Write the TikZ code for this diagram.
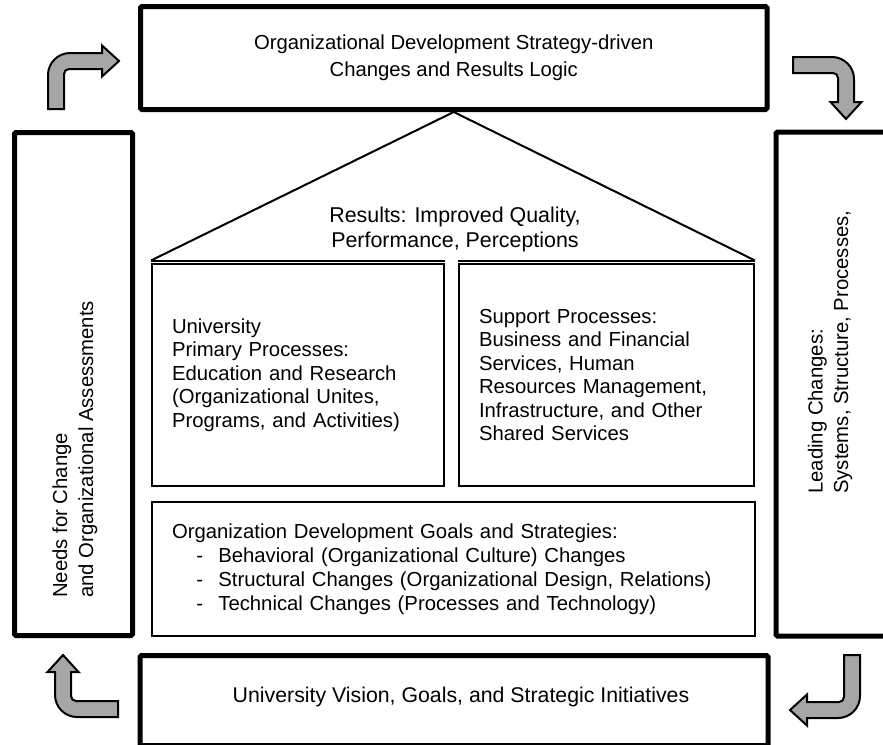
\documentclass[tikz,border=0pt]{standalone}
\usepackage{fontspec}
\setmainfont{Liberation Sans}

\tikzset{
  bigbox/.style={draw, line width=5pt, rounded corners=1.5pt, inner sep=0pt, align=center},
  smallbox/.style={draw, line width=2pt, inner xsep=20pt, inner ysep=0pt, align=left},
  roof/.style={line width=2pt},
  arrowfill/.style={fill=gray!70, draw=black, line width=2pt},
}

% bent arrow: leg length, distance to the head
\newcommand{\bentarrow}[2]{%
  \filldraw[arrowfill] (0,#1) -- (0,22) .. controls (0,9.9) and (9.9,0) .. (22,0)
    -- (#2,0) -- (#2,-7.5) -- ({#2+17},8) -- (#2,23.5) -- (#2,16)
    -- (21,16) .. controls (18.2,16) and (16,18.2) .. (16,21) -- (16,#1) -- cycle;}

\begin{document}
\begin{tikzpicture}[x=1pt, y=-1pt, font=\fontsize{20.3}{23.5}\selectfont]
    \useasboundingbox (0,0) rectangle (883,744);
    \clip (0,0) rectangle (883,744);

    % Outer frame
    \node[bigbox, minimum width=626.5, minimum height=103, font=\fontsize{20.3}{27}\selectfont] (strat) at (453.75,58)
        {Organizational Development Strategy-driven\\Changes and Results Logic};
    \node[bigbox, minimum width=118, minimum height=503] (needs) at (73.5,384) {};
    \node[bigbox, minimum width=110, minimum height=504] (lead) at (831,384) {};
    \node[bigbox, minimum width=628, minimum height=90] (vision) at (454,700.5) {};
    \node[font=\fontsize{21.3}{25}\selectfont] (visiontxt) at (461,697)
        {University Vision, Goals, and Strategic Initiatives};

    % Side labels
    \node[rotate=90, anchor=west, align=left, inner sep=0pt, font=\fontsize{20.3}{26}\selectfont] (needstxt) at (75,598)
        {Needs for Change\\and Organizational Assessments};
    \node[rotate=90, anchor=west, align=left, inner sep=0pt, font=\fontsize{20.3}{25.5}\selectfont] (leadtxt) at (830,494)
        {Leading Changes:\\Systems, Structure, Processes,};

    % Processes
    \node[smallbox, text width=252, minimum height=222] (prim) at (298,375)
        {University\\Primary Processes:\\Education and Research\\(Organizational Unites,\\Programs, and Activities)};
    \node[smallbox, text width=255, minimum height=222] (supp) at (606.5,375)
        {Support Processes:\\Business and Financial\\Services, Human\\Resources Management,\\Infrastructure, and Other\\Shared Services};

    % Goals and strategies
    \node[smallbox, text width=563, minimum height=134, font=\fontsize{20.3}{24}\selectfont] (goals) at (453.5,569)
        {Organization Development Goals and Strategies:\\
         \hspace*{1.2em}-\hspace{0.75em}Behavioral (Organizational Culture) Changes\\
         \hspace*{1.2em}-\hspace{0.75em}Structural Changes (Organizational Design, Relations)\\
         \hspace*{1.2em}-\hspace{0.75em}Technical Changes (Processes and Technology)};

    % Roof
    \coordinate (roofL) at ([yshift=2.5pt]prim.north west);
    \coordinate (roofR) at ([yshift=2.5pt]supp.north east);
    \draw[roof] (roofL) -- (strat.south) -- (roofR);
    \draw[roof] (roofL) -- ([yshift=2.5pt]prim.north east);
    \draw[roof] ([yshift=2.5pt]supp.north west) -- (roofR);
    \node[align=center, font=\fontsize{21.4}{25}\selectfont] (results) at (455,229)
        {Results: Improved Quality,\\Performance, Perceptions};

    % Turning arrows
    \begin{scope}[shift={(48,53)}] \bentarrow{56}{54} \end{scope}
    \begin{scope}[shift={(854,57)}, rotate=-90] \bentarrow{61}{45} \end{scope}
    \begin{scope}[shift={(860,718)}, rotate=180] \bentarrow{63}{53} \end{scope}
    \begin{scope}[shift={(55,717)}, rotate=90] \bentarrow{63}{45} \end{scope}
\end{tikzpicture}
\end{document}
